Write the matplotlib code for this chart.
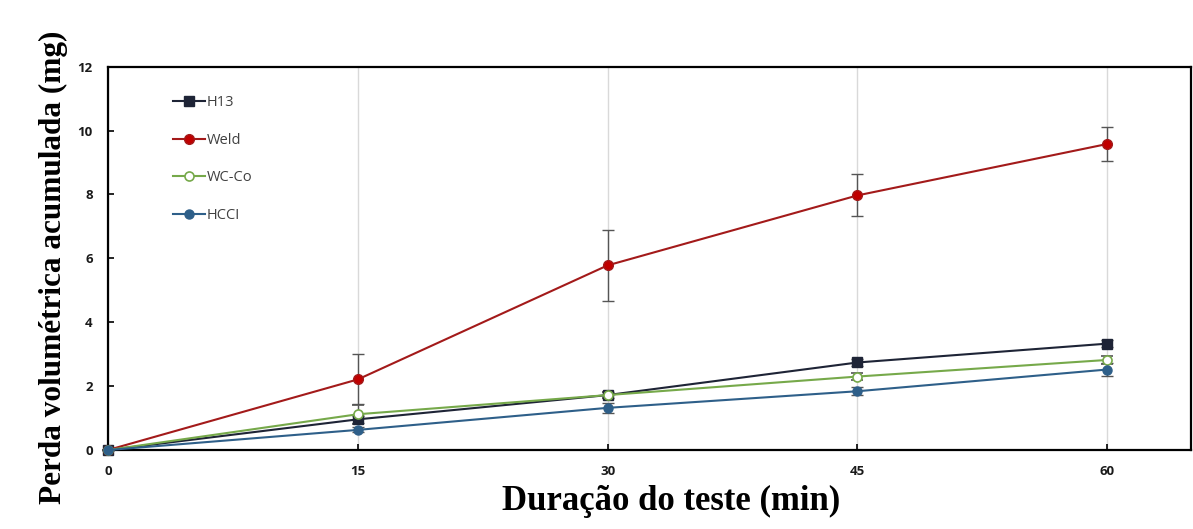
import matplotlib.pyplot as plt
from matplotlib.lines import Line2D

# test duration (min)
minutes = [0, 15, 30, 45, 60]

# accumulated volumetric loss (mg) and error bars
h13 = [0.0, 0.96, 1.72, 2.74, 3.33]
h13_err = [0.0, 0.10, 0.10, 0.10, 0.10]
weld = [0.0, 2.21, 5.78, 7.97, 9.58]
weld_err = [0.0, 0.78, 1.11, 0.66, 0.53]
wcco = [0.0, 1.12, 1.72, 2.30, 2.82]
wcco_err = [0.0, 0.30, 0.10, 0.10, 0.12]
hcci = [0.0, 0.63, 1.32, 1.84, 2.52]
hcci_err = [0.0, 0.08, 0.15, 0.12, 0.20]

x_ticks = [0, 15, 30, 45, 60]
y_ticks = [0, 2, 4, 6, 8, 10, 12]

series = [
    ("H13", h13, h13_err, dict(color='#1e2436', marker='s', mfc='#1e2436', ms=6.5)),
    ("Weld", weld, weld_err, dict(color='#a31a1a', marker='o', mfc='#c00000', ms=7)),
    ("WC-Co", wcco, wcco_err, dict(color='#76a94a', marker='o', mfc='white', ms=6.5, mew=1.2)),
    ("HCCI", hcci, hcci_err, dict(color='#2e5f89', marker='o', mfc='#2e5f89', ms=6.5)),
]

fig = plt.figure(figsize=(11.93, 5.29), dpi=100)
ax = fig.add_axes([0.0905, 0.1493, 0.9075, 0.7247])

handles = []
for name, vals, err, style in series:
    ax.errorbar(minutes, vals, yerr=err, ecolor='#555555', elinewidth=1.0,
                capsize=4, capthick=1.0, lw=1.5, mec=style['color'],
                clip_on=False, zorder=3, **style)
    handles.append(Line2D([], [], lw=1.5, mec=style['color'], label=name, **style))

ax.set_xlim(0, 65)
ax.set_ylim(0, 12)
ax.set_xticks(x_ticks)
ax.set_yticks(y_ticks)
ax.grid(axis='x', color='#d9d9d9', lw=1.0)
ax.set_axisbelow(True)

for sp in ax.spines.values():
    sp.set_linewidth(1.6)
    sp.set_color('black')

ax.tick_params(direction='in', length=4, width=1.2, pad=11, colors='black')
for lbl in ax.get_xticklabels() + ax.get_yticklabels():
    lbl.set_fontfamily('Open Sans')
    lbl.set_fontweight('bold')
    lbl.set_fontsize(9.5)
    lbl.set_color('#1a1a1a')

ax.set_xlabel('Duração do teste (min)', family='Liberation Serif',
              fontweight='bold', fontsize=25)
ax.xaxis.set_label_coords(0.52, -0.09)
ax.set_ylabel('Perda volumétrica acumulada (mg)', family='Liberation Serif',
              fontweight='bold', fontsize=22.5)
ax.yaxis.set_label_coords(-0.037, 0.476)

leg = ax.legend(handles=handles, loc='upper left', bbox_to_anchor=(0.048, 0.96),
                frameon=False, handlelength=2.2, handletextpad=0.1,
                labelspacing=1.55, prop={'family': 'Open Sans', 'size': 10.5})
for t in leg.get_texts():
    t.set_color('#404040')

fig.savefig('out.png', dpi=100)
